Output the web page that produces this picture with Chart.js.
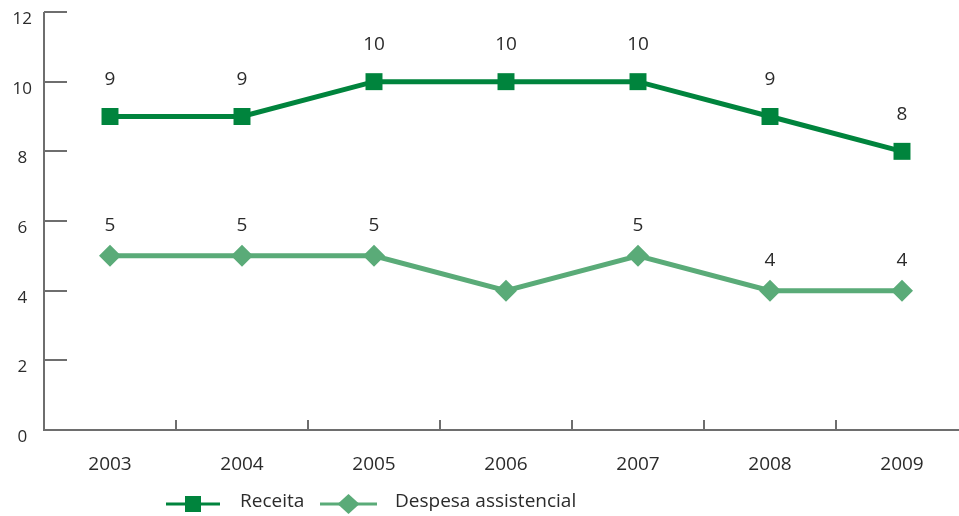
<!DOCTYPE html>
<html>
<head>
<meta charset="utf-8">
<script src="https://cdn.jsdelivr.net/npm/chart.js@4/dist/chart.umd.min.js"></script>
<style>
  html, body { margin: 0; padding: 0; background: #fff; overflow: hidden; }
  #wrap { width: 980px; height: 516px; }
</style>
</head>
<body>
<div id="wrap"><canvas id="c" width="980" height="516"></canvas></div>
<script>
// Years on the horizontal axis
const years = ['2003', '2004', '2005', '2006', '2007', '2008', '2009'];
// Series values
const receita = [9, 9, 10, 10, 10, 9, 8];
const despesa = [5, 5, 5, 4, 5, 4, 4];
// Points that carry a printed value (the 2006 expense point has none)
const despesaLabelled = [true, true, true, false, true, true, true];
// Vertical axis ticks
const yTicks = [0, 2, 4, 6, 8, 10, 12];

const DARK = '#00843d';
const LIGHT = '#5aab78';
const AXIS = '#6e6e6e';
const TEXT = '#2b2b2b';
const FONT = '"Open Sans", "Noto Sans", sans-serif';

// Short inward tick marks and the axis frame
const axisTicks = {
  id: 'axisTicks',
  afterDraw(chart) {
    const ctx = chart.ctx;
    const x = chart.scales.x, y = chart.scales.y;
    const area = chart.chartArea;
    ctx.save();
    ctx.strokeStyle = AXIS;
    ctx.lineWidth = 2;
    ctx.lineCap = 'butt';
    // y ticks pointing into the plot
    yTicks.forEach(v => {
      const py = Math.round(y.getPixelForValue(v));
      ctx.beginPath();
      ctx.moveTo(area.left, py);
      ctx.lineTo(area.left + 23, py);
      ctx.stroke();
    });
    // x ticks between categories, pointing up
    for (let i = 1; i < years.length; i++) {
      const px = Math.round((x.getPixelForValue(i - 1) + x.getPixelForValue(i)) / 2);
      ctx.beginPath();
      ctx.moveTo(px, area.bottom);
      ctx.lineTo(px, area.bottom - 10);
      ctx.stroke();
    }
    // axis lines
    ctx.beginPath();
    ctx.moveTo(area.left, area.top);
    ctx.lineTo(area.left, area.bottom);
    ctx.lineTo(area.right, area.bottom);
    ctx.stroke();
    ctx.restore();
  }
};

// Value labels above each point
const valueLabels = {
  id: 'valueLabels',
  afterDatasetsDraw(chart) {
    const ctx = chart.ctx;
    ctx.save();
    ctx.font = '19px ' + FONT;
    ctx.fillStyle = TEXT;
    ctx.textAlign = 'center';
    ctx.textBaseline = 'middle';
    chart.data.datasets.forEach((ds, di) => {
      const meta = chart.getDatasetMeta(di);
      const lift = di === 0 ? 37 : 30;
      meta.data.forEach((pt, i) => {
        if (di === 1 && !despesaLabelled[i]) return;
        ctx.fillText(String(ds.data[i]), pt.x, pt.y - lift);
      });
    });
    ctx.restore();
  }
};

// Legend with line-through-marker symbols
const lineLegend = {
  id: 'lineLegend',
  afterDraw(chart) {
    const ctx = chart.ctx;
    const cy = 504;
    const items = [
      { x0: 166, x1: 220, tx: 240 },
      { x0: 320, x1: 377, tx: 395 }
    ];
    ctx.save();
    chart.data.datasets.forEach((ds, i) => {
      const it = items[i];
      ctx.strokeStyle = ds.borderColor;
      ctx.lineWidth = 3;
      ctx.beginPath();
      ctx.moveTo(it.x0, cy);
      ctx.lineTo(it.x1, cy);
      ctx.stroke();
      const cx = (it.x0 + it.x1) / 2;
      ctx.fillStyle = ds.pointBackgroundColor;
      if (ds.pointStyle === 'rect') {
        ctx.fillRect(cx - 8, cy - 8, 16, 16);
      } else {
        ctx.beginPath();
        ctx.moveTo(cx, cy - 10);
        ctx.lineTo(cx + 11, cy);
        ctx.lineTo(cx, cy + 10);
        ctx.lineTo(cx - 11, cy);
        ctx.closePath();
        ctx.fill();
      }
      ctx.font = '19px ' + FONT;
      ctx.fillStyle = TEXT;
      ctx.textAlign = 'left';
      ctx.textBaseline = 'middle';
      ctx.fillText(ds.label, it.tx, cy - 2);
    });
    ctx.restore();
  }
};

new Chart(document.getElementById('c'), {
  type: 'line',
  data: {
    labels: years,
    datasets: [
      {
        label: 'Receita',
        data: receita,
        borderColor: DARK,
        backgroundColor: DARK,
        pointBackgroundColor: DARK,
        pointBorderColor: DARK,
        borderWidth: 5,
        pointStyle: 'rect',
        pointRadius: 12,
        pointBorderWidth: 0,
        tension: 0
      },
      {
        label: 'Despesa assistencial',
        data: despesa,
        borderColor: LIGHT,
        backgroundColor: LIGHT,
        pointBackgroundColor: LIGHT,
        pointBorderColor: LIGHT,
        borderWidth: 5,
        pointStyle: 'rectRot',
        pointRadius: 11,
        pointBorderWidth: 0,
        tension: 0
      }
    ]
  },
  options: {
    responsive: false,
    animation: false,
    layout: { padding: { top: 12, right: 0, left: 0, bottom: 0 } },
    plugins: {
      legend: { display: false },
      tooltip: { enabled: false }
    },
    scales: {
      x: {
        offset: true,
        grid: { display: false, offset: true },
        border: { display: false },
        ticks: {
          color: TEXT,
          font: { family: FONT, size: 19 },
          padding: 15,
          maxRotation: 0
        },
        afterFit(s) {
          s.height = 86;
          s.paddingLeft = 0;
          s.paddingRight = 0;
        }
      },
      y: {
        min: 0,
        max: 12,
        grid: { display: false, drawTicks: false },
        border: { display: false },
        afterBuildTicks(s) { s.ticks = yTicks.map(v => ({ value: v })); },
        ticks: {
          color: TEXT,
          font: { family: FONT, size: 17 },
          padding: 12,
          crossAlign: 'center',
          labelOffset: 7
        },
        afterFit(s) {
          s.width = 44;
          s.paddingTop = 0;
          s.paddingBottom = 0;
        }
      }
    }
  },
  plugins: [axisTicks, valueLabels, lineLegend]
});
</script>
</body>
</html>
